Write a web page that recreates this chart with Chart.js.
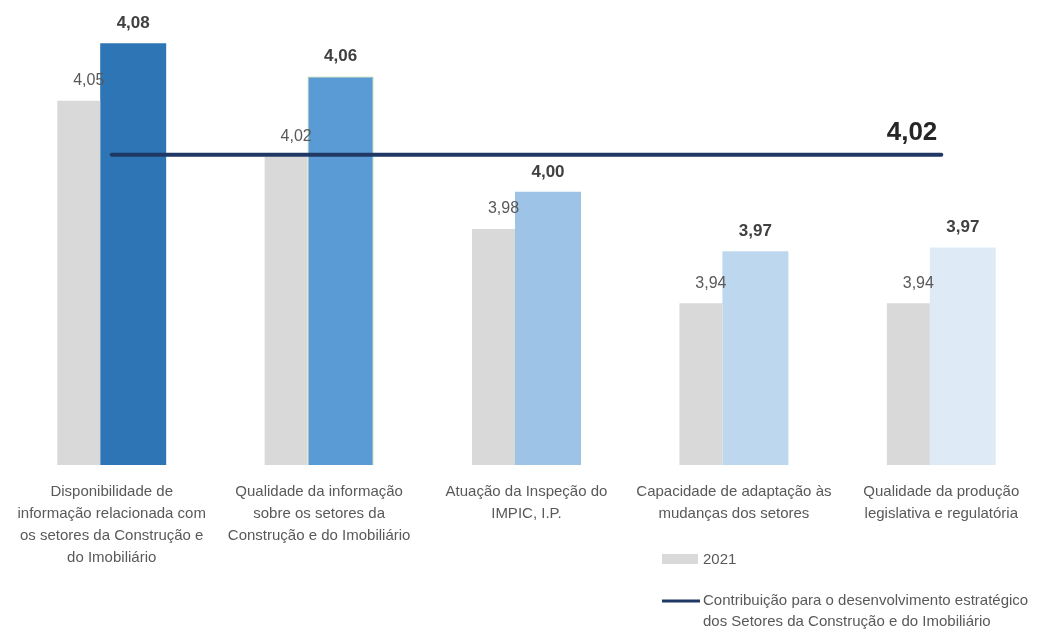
<!DOCTYPE html>
<html>
<head>
<meta charset="utf-8">
<script src="https://cdn.jsdelivr.net/npm/chart.js@4"></script>
<style>
  html, body { margin: 0; padding: 0; background: #fff; }
  #wrap { width: 1057px; height: 631px; }
</style>
</head>
<body>
<div id="wrap"><canvas id="chart"></canvas></div>
<script>
const categories = [
    ["Disponibilidade de", "informação relacionada com", "os setores da Construção e", "do Imobiliário"],
    ["Qualidade da informação", "sobre os setores da", "Construção e do Imobiliário"],
    ["Atuação da Inspeção do", "IMPIC, I.P."],
    ["Capacidade de adaptação às", "mudanças dos setores"],
    ["Qualidade da produção", "legislativa e regulatória"]
];
const values2021 = [4.049, 4.019, 3.98, 3.94, 3.94];
const values2022 = [4.08, 4.062, 4.00, 3.968, 3.97];
const mediaGlobal = [4.02, 4.02, 4.02, 4.02, 4.02];
const coresAtual = ['#2E75B6', '#5B9BD5', '#9DC3E6', '#BDD7EE', '#DEEBF7'];

const FONT = "'Liberation Sans', Arial, sans-serif";
const fmt = v => v.toFixed(2).replace('.', ',');

// rótulos das barras, valor da linha e legenda
const extras = {
    id: 'extras',
    afterDatasetsDraw(chart) {
        const c = chart.ctx;
        c.save();
        c.textAlign = 'center';
        c.textBaseline = 'middle';
        chart.getDatasetMeta(0).data.forEach((bar, i) => {
            c.font = '16px ' + FONT;
            c.fillStyle = '#595959';
            c.fillText(fmt(values2021[i]), bar.x + 10, bar.y - 20);
        });
        chart.getDatasetMeta(1).data.forEach((bar, i) => {
            c.font = 'bold 17px ' + FONT;
            c.fillStyle = '#404040';
            c.fillText(fmt(values2022[i]), bar.x, bar.y - 20);
        });
        const pts = chart.getDatasetMeta(2).data;
        const last = pts[pts.length - 1];
        c.font = 'bold 26px ' + FONT;
        c.fillStyle = '#262626';
        c.textAlign = 'right';
        c.fillText(fmt(mediaGlobal[mediaGlobal.length - 1]), last.x - 4, last.y - 22);

        // legenda
        c.textAlign = 'left';
        c.font = '15px ' + FONT;
        c.fillStyle = '#D9D9D9';
        c.fillRect(662, 554, 36, 10);
        c.fillStyle = '#595959';
        c.fillText('2021', 703, 560);
        c.strokeStyle = '#1F3864';
        c.lineWidth = 3;
        c.beginPath();
        c.moveTo(662, 601);
        c.lineTo(700, 601);
        c.stroke();
        c.fillText('Contribuição para o desenvolvimento estratégico', 703, 601);
        c.fillText('dos Setores da Construção e do Imobiliário', 703, 622);
        c.restore();
    }
};

const ctx = document.querySelector('#chart').getContext('2d');
const chart = new Chart(ctx, {
    type: 'bar',
    data: {
        labels: categories,
        datasets: [{
            label: '2021',
            data: values2021,
            backgroundColor: '#D9D9D9',
            barPercentage: 0.6515,
            categoryPercentage: 0.636,
            order: 1
        }, {
            label: '2022',
            data: values2022,
            backgroundColor: coresAtual,
            borderColor: ['rgba(0,0,0,0)', '#A9D18E', 'rgba(0,0,0,0)', 'rgba(0,0,0,0)', 'rgba(0,0,0,0)'],
            borderWidth: [0, 1, 0, 0, 0],
            barPercentage: 1.535,
            categoryPercentage: 0.4145,
            order: 1
        }, {
            type: 'line',
            label: 'Contribuição para o desenvolvimento estratégico dos Setores da Construção e do Imobiliário',
            data: mediaGlobal,
            borderColor: '#1F3864',
            borderWidth: 4,
            borderCapStyle: 'round',
            pointRadius: 0,
            order: 0
        }]
    },
    options: {
        responsive: true,
        maintainAspectRatio: false,
        animation: false,
        layout: {
            padding: { top: 6, left: 8, right: 12, bottom: 0 }
        },
        scales: {
            x: {
                grid: { display: false, drawTicks: false },
                border: { display: false },
                ticks: {
                    color: '#595959',
                    font: { family: FONT, size: 15, lineHeight: 1.47 },
                    padding: 16,
                    maxRotation: 0,
                    autoSkip: false
                },
                afterFit: s => { s.height = 166 }
            },
            y: {
                display: false,
                min: 3.853,
                max: 4.1
            }
        },
        plugins: {
            legend: { display: false },
            tooltip: { enabled: false }
        }
    },
    plugins: [extras]
});
</script>
</body>
</html>
